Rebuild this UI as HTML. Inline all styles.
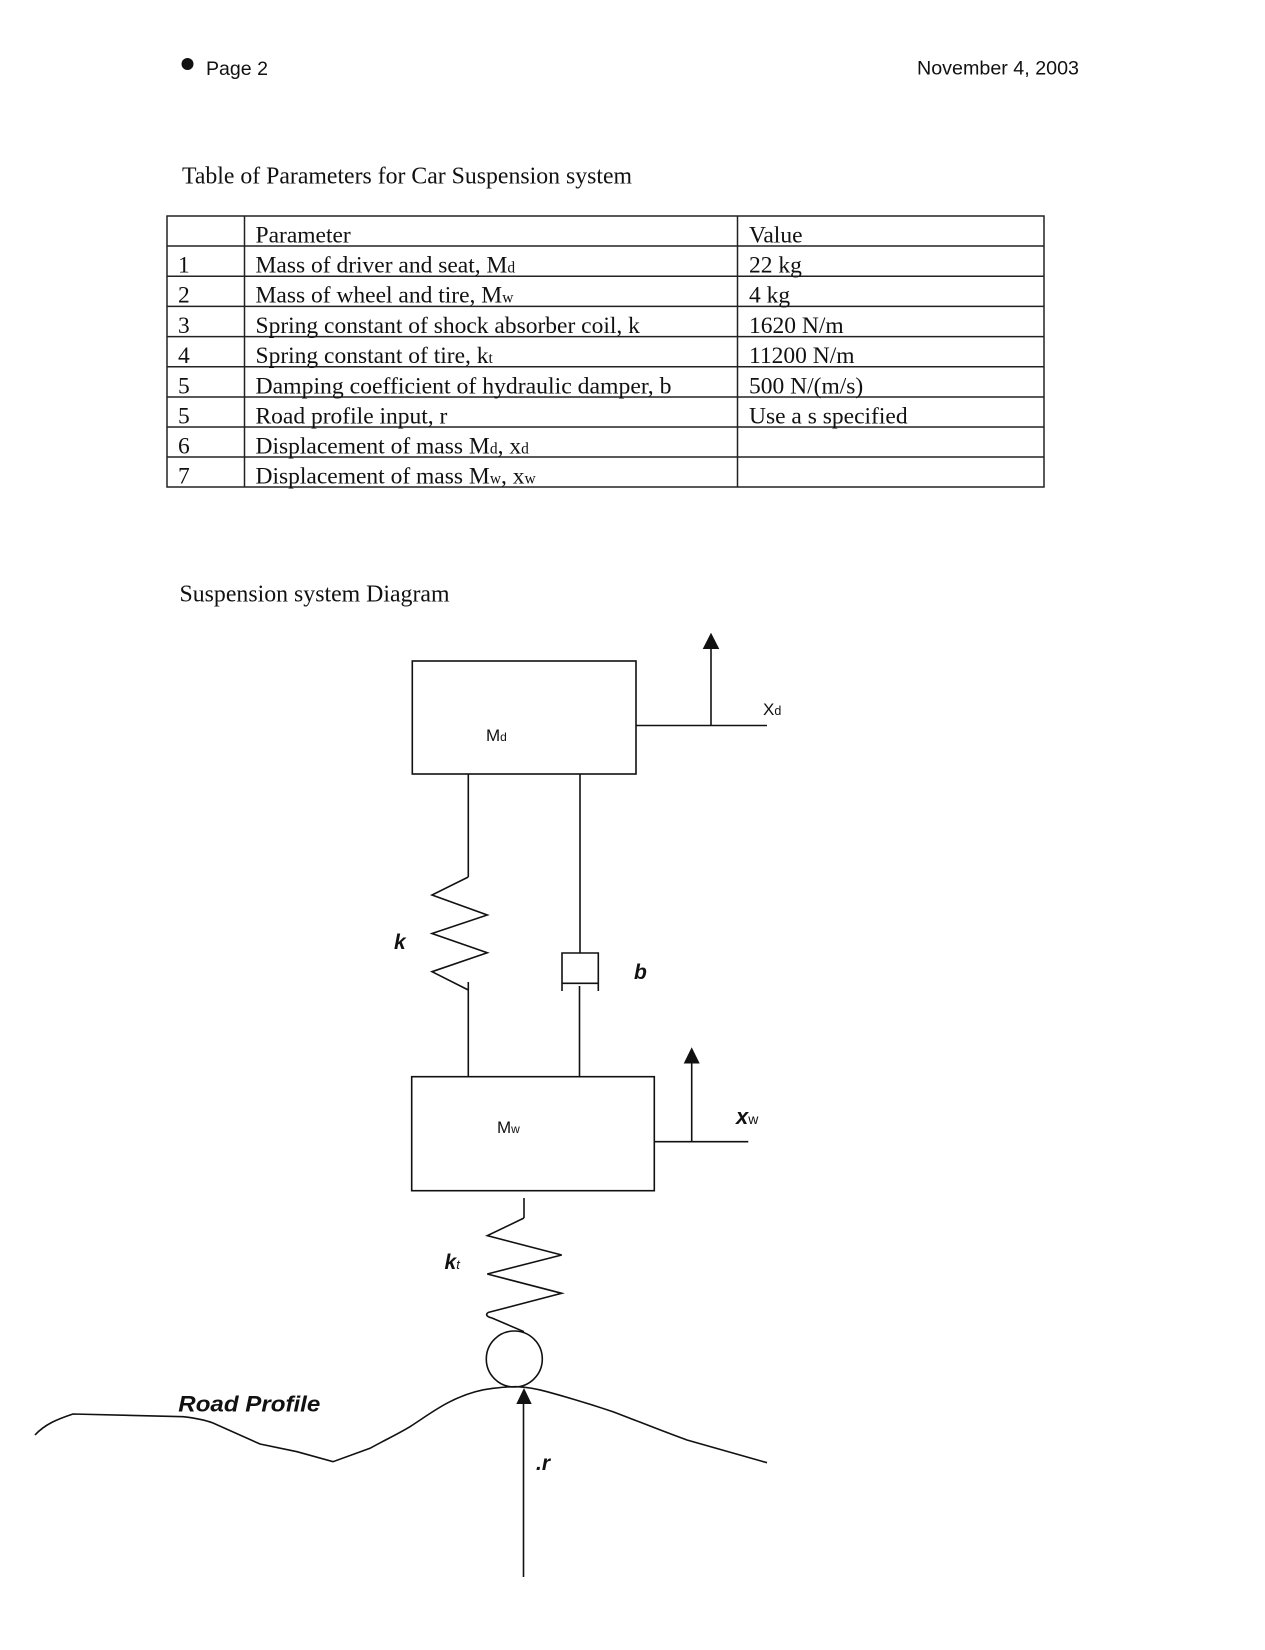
<!DOCTYPE html>
<html>
<head>
<meta charset="utf-8">
<style>
  html, body { margin:0; padding:0; background:#fff; }
  body { width:1265px; height:1650px; overflow:hidden; }
  svg { display:block; }
  .sans { font-family: "Liberation Sans", Arial, sans-serif; }
  .serif { font-family: "Liberation Serif", "Times New Roman", serif; }
</style>
</head>
<body>
<svg width="1265" height="1650" viewBox="0 0 1265 1650" xmlns="http://www.w3.org/2000/svg">
  <rect width="1265" height="1650" fill="#fff"/>

  <!-- Header -->
  <circle cx="187.5" cy="64" r="6" fill="#111"/>
  <text class="sans" x="206" y="75" font-size="19.5" fill="#111" textLength="62" lengthAdjust="spacingAndGlyphs">Page 2</text>
  <text class="sans" x="917" y="74.5" font-size="19.5" fill="#111" textLength="162" lengthAdjust="spacingAndGlyphs">November 4, 2003</text>

  <!-- Title -->
  <text class="serif" x="182" y="183.5" font-size="24.5" fill="#111" textLength="450" lengthAdjust="spacingAndGlyphs">Table of Parameters for Car Suspension system</text>

  <!-- Table -->
  <g stroke="#222" stroke-width="1.5" fill="none">
    <rect x="167" y="216" width="877" height="271"/>
    <line x1="244.5" y1="216" x2="244.5" y2="487"/>
    <line x1="737.5" y1="216" x2="737.5" y2="487"/>
    <line x1="167" y1="246" x2="1044" y2="246"/>
    <line x1="167" y1="276.2" x2="1044" y2="276.2"/>
    <line x1="167" y1="306.4" x2="1044" y2="306.4"/>
    <line x1="167" y1="336.6" x2="1044" y2="336.6"/>
    <line x1="167" y1="366.8" x2="1044" y2="366.8"/>
    <line x1="167" y1="397" x2="1044" y2="397"/>
    <line x1="167" y1="427" x2="1044" y2="427"/>
    <line x1="167" y1="457" x2="1044" y2="457"/>
  </g>
  <g class="serif" font-size="23.5" fill="#111">
    <text x="255.5" y="242.5">Parameter</text>
    <text x="749" y="242.5">Value</text>

    <text x="178" y="272.5">1</text>
    <text x="255.5" y="272.5">Mass of driver and seat, M<tspan font-size="15.5">d</tspan></text>
    <text x="749" y="272.5">22 kg</text>

    <text x="178" y="302.7">2</text>
    <text x="255.5" y="302.7">Mass of wheel and tire, M<tspan font-size="15.5">w</tspan></text>
    <text x="749" y="302.7">4 kg</text>

    <text x="178" y="333">3</text>
    <text x="255.5" y="333">Spring constant of shock absorber coil, k</text>
    <text x="749" y="333">1620 N/m</text>

    <text x="178" y="363">4</text>
    <text x="255.5" y="363">Spring constant of tire, k<tspan font-size="15.5">t</tspan></text>
    <text x="749" y="363">11200 N/m</text>

    <text x="178" y="393.3">5</text>
    <text x="255.5" y="393.3" textLength="416" lengthAdjust="spacingAndGlyphs">Damping coefficient of hydraulic damper, b</text>
    <text x="749" y="393.3">500 N/(m/s)</text>

    <text x="178" y="423.5">5</text>
    <text x="255.5" y="423.5">Road profile input, r</text>
    <text x="749" y="423.5">Use a s specified</text>

    <text x="178" y="453.5">6</text>
    <text x="255.5" y="453.5">Displacement of mass M<tspan font-size="15.5">d</tspan>, x<tspan font-size="15.5">d</tspan></text>

    <text x="178" y="483.5">7</text>
    <text x="255.5" y="483.5">Displacement of mass M<tspan font-size="15.5">w</tspan>, x<tspan font-size="15.5">w</tspan></text>
  </g>

  <!-- Diagram title -->
  <text class="serif" x="179.5" y="601.7" font-size="24.5" fill="#111" textLength="270" lengthAdjust="spacingAndGlyphs">Suspension system Diagram</text>

  <!-- Diagram -->
  <g stroke="#111" stroke-width="1.6" fill="none" stroke-linejoin="miter">
    <!-- Md box -->
    <rect x="412.3" y="661" width="223.7" height="113"/>
    <!-- xd reference line and arrow -->
    <line x1="636" y1="725.5" x2="767" y2="725.5"/>
    <line x1="711" y1="725.5" x2="711" y2="646"/>
    <!-- links below Md -->
    <line x1="468.3" y1="774" x2="468.3" y2="877"/>
    <line x1="580" y1="774" x2="580" y2="953"/>
    <!-- spring k -->
    <polyline points="468.3,877 432,895 487.3,915 432,933.5 487.3,952.7 432,971.7 468.3,990"/>
    <line x1="468.3" y1="982" x2="468.3" y2="1077"/>
    <!-- damper b -->
    <path d="M562,991 V953 H598.3 V991"/>
    <line x1="562" y1="983.3" x2="598.3" y2="983.3"/>
    <line x1="579.5" y1="986" x2="579.5" y2="1077"/>
    <!-- Mw box -->
    <rect x="411.7" y="1076.7" width="242.6" height="114"/>
    <!-- xw reference line and arrow -->
    <line x1="654.3" y1="1141.7" x2="748.3" y2="1141.7"/>
    <line x1="691.7" y1="1141.7" x2="691.7" y2="1061"/>
    <!-- tire spring kt -->
    <line x1="524" y1="1198" x2="524" y2="1218"/>
    <polyline points="524,1218 487.3,1235.7 561.7,1255 487.3,1274 561.7,1293.3 488,1312.5"/>
    <path d="M488,1312.5 Q484,1316 492,1318 L524,1331.7"/>
    <!-- tire -->
    <circle cx="514.3" cy="1359" r="28"/>
    <!-- road arrow -->
    <line x1="523.5" y1="1577" x2="523.5" y2="1402"/>
    <!-- road profile -->
    <path d="M35,1435 C45,1424 58,1419 73,1414 L183,1416.7 C195,1418 205,1420 213,1423 L260,1444 L297,1451.7 L333,1461.7 L370,1448.3 C385,1440 398,1434 410,1426.7 C425,1417 437,1408 450,1401.7 C465,1394 478,1390 493,1388.3 C505,1387 512,1386.5 517,1386.7 C527,1387 537,1389 547,1391.7 C570,1398 590,1404 613,1411.7 C640,1422 662,1431 687,1440 L767,1462.7"/>
  </g>

  <!-- arrowheads -->
  <g fill="#111" stroke="none">
    <polygon points="711,632.7 702.7,649 719.3,649"/>
    <polygon points="691.7,1047.3 683.7,1063.5 699.7,1063.5"/>
    <polygon points="524,1388 516.3,1404 531.7,1404"/>
  </g>

  <!-- Diagram labels -->
  <g class="sans" fill="#111">
    <text x="486" y="741" font-size="17">M<tspan font-size="12">d</tspan></text>
    <text x="763" y="715" font-size="17">X<tspan font-size="12.5">d</tspan></text>
    <text x="497" y="1133" font-size="17">M<tspan font-size="12">w</tspan></text>
    <text x="736" y="1124" font-size="22" font-style="italic" font-weight="bold">x<tspan font-size="14" font-style="normal" font-weight="normal">w</tspan></text>
    <text x="394" y="949" font-size="21" font-style="italic" font-weight="bold">k</text>
    <text x="634" y="979" font-size="21" font-style="italic" font-weight="bold">b</text>
    <text x="444.5" y="1269" font-size="21" font-style="italic" font-weight="bold">k<tspan font-size="13" font-weight="normal">t</tspan></text>
    <text x="536" y="1470" font-size="21" font-style="italic" font-weight="bold">.r</text>
    <text x="178.3" y="1411.7" font-size="22" font-style="italic" font-weight="bold" textLength="142" lengthAdjust="spacingAndGlyphs">Road Profile</text>
  </g>
</svg>
</body>
</html>
